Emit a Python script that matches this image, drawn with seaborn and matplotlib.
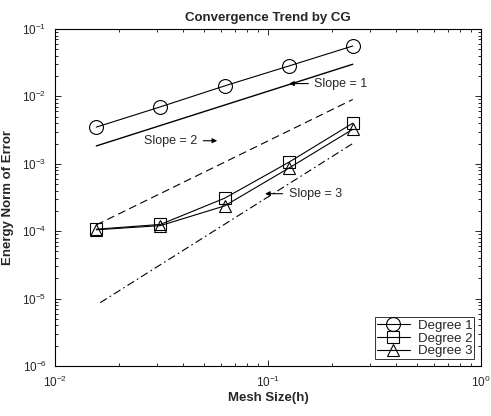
import numpy as np
import pandas as pd
import matplotlib
matplotlib.use("Agg")
import matplotlib.pyplot as plt
import seaborn as sns

# ---- data ----
h = [1/64, 1/32, 1/16, 1/8, 1/4]
err_deg1 = [3.5e-3, 7.0e-3, 1.43e-2, 2.82e-2, 5.6e-2]
err_deg2 = [1.07e-4, 1.26e-4, 3.08e-4, 1.05e-3, 4.0e-3]
err_deg3 = [1.05e-4, 1.21e-4, 2.37e-4, 8.6e-4, 3.25e-3]
series_names = ["Degree 1", "Degree 2", "Degree 3"]

ref_h = [1/64, 1/4]
ref_slope1 = [1.84e-3, 3.0e-2]
ref_slope2 = [1.24e-4, 9.0e-3]
ref_slope3_h = [0.0163, 1/4]
ref_slope3 = [8.7e-6, 2.0e-3]

sns.set_style("ticks")
plt.rcParams["font.family"] = ["Liberation Sans", "DejaVu Sans"]
plt.rcParams["mathtext.fontset"] = "custom"
plt.rcParams["mathtext.rm"] = "Liberation Sans"
plt.rcParams["mathtext.it"] = "Liberation Sans:italic"
plt.rcParams["mathtext.bf"] = "Liberation Sans:bold"

fig = plt.figure(figsize=(4.91, 4.16), dpi=100)
ax = fig.add_axes([55/491, 1-366/416, (481-55)/491, (366-29)/416])

# reference lines
sns.lineplot(x=ref_h, y=ref_slope1, ax=ax, color="black", lw=1.0, linestyle="-")
sns.lineplot(x=ref_h, y=ref_slope2, ax=ax, color="black", lw=0.8, linestyle=(0, (7, 4)))
sns.lineplot(x=ref_slope3_h, y=ref_slope3, ax=ax, color="black", lw=0.8, linestyle=(0, (7, 3, 1.5, 3)))

# data series
markers = ["o", "s", "^"]
msizes = [10, 8, 9]
for ys, name, m, ms in zip([err_deg1, err_deg2, err_deg3], series_names, markers, msizes):
    sns.lineplot(x=h, y=ys, ax=ax, color="black", lw=0.8, marker=m, markersize=ms,
                 markerfacecolor="none", markeredgecolor="black", markeredgewidth=0.8,
                 label=name)

ax.set_xscale("log")
ax.set_yscale("log")
ax.set_xlim(1e-2, 1e0)
ax.set_ylim(1e-6, 1e-1)

ax.tick_params(which="both", direction="in", top=True, right=True, labelsize=8.5, width=0.7, pad=6)
ax.tick_params(which="major", length=4)
ax.tick_params(which="minor", length=2)
for s in ax.spines.values():
    s.set_linewidth(0.8)
    s.set_color("black")

ax.set_title("Convergence Trend by CG", fontsize=9.5, fontweight="bold", pad=6)
ax.set_xlabel("Mesh Size(h)", fontsize=9.5, fontweight="bold", labelpad=2)
ax.set_ylabel("Energy Norm of Error", fontsize=9.5, fontweight="bold", labelpad=6)

arrow = dict(arrowstyle="-|>", color="black", lw=0.8, mutation_scale=7)
ax.annotate("Slope = 1", xy=(0.122, 1.55e-2), xytext=(0.165, 1.55e-2), fontsize=9,
            va="center", ha="left", arrowprops=arrow)
ax.annotate("Slope = 2", xy=(0.0595, 2.2e-3), xytext=(0.0465, 2.2e-3), fontsize=9,
            va="center", ha="right", arrowprops=arrow)
ax.annotate("Slope = 3", xy=(0.094, 3.6e-4), xytext=(0.125, 3.6e-4), fontsize=9,
            va="center", ha="left", arrowprops=arrow)

leg = ax.legend(loc="lower right", fontsize=9.5, frameon=True, fancybox=False,
                edgecolor="black", borderpad=0.15, labelspacing=0.05, handlelength=2.5,
                handletextpad=0.6, borderaxespad=0.5)
leg.get_frame().set_linewidth(0.7)

fig.savefig("out.png", dpi=100)
